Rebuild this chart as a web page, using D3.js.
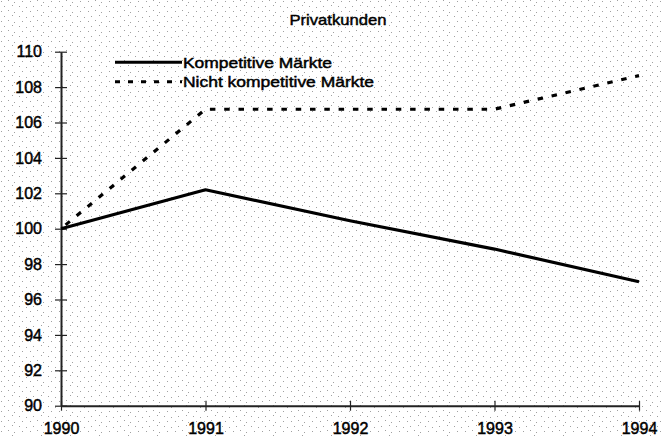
<!DOCTYPE html>
<html><head><meta charset="utf-8">
<script src="https://cdn.jsdelivr.net/npm/d3@7/dist/d3.min.js"></script>
<style>
html,body{margin:0;padding:0;background:#fff;}
svg{display:block;font-family:"Liberation Sans",Arial,sans-serif;}
</style></head>
<body>
<svg id="chart" width="663" height="436"></svg>
<script>
const title = "Privatkunden";
const years = [1990, 1991, 1992, 1993, 1994];
const kompetitiv = [100, 102.2, 100.45, 98.85, 97.0];
const nichtKompetitiv = [100, 106.75, 106.75, 106.75, 108.65];
const seriesNames = ["Kompetitive Märkte", "Nicht kompetitive Märkte"];
const yTicks = [90, 92, 94, 96, 98, 100, 102, 104, 106, 108, 110];

const W = 663, H = 436;
const m = {left: 61, right: 24, top: 51.7, bottom: 30.3};
const svg = d3.select("#chart");

// scanned stipple background
const defs = svg.append("defs");
const pat = defs.append("pattern").attr("id","stip").attr("patternUnits","userSpaceOnUse")
  .attr("width", 29).attr("height", 10);
[[1,1],[8,0],[14,2],[22,1],[4,6],[12,5],[19,6],[26,7]].forEach(([x,y])=>{
  pat.append("rect").attr("x",x).attr("y",y).attr("width",1).attr("height",1).attr("fill","#a0a0a0");
});
svg.append("rect").attr("width",W).attr("height",H).attr("fill","#fff");
svg.append("rect").attr("width",W).attr("height",H).attr("fill","url(#stip)");

const x = d3.scaleLinear().domain([1990,1994]).range([m.left, W - m.right]);
const y = d3.scaleLinear().domain([90,110]).range([H - m.bottom, m.top]);

const textStyle = sel => sel.attr("fill","#000").attr("stroke","#000").attr("stroke-width",0.45)
  .attr("font-family","'Liberation Sans',Arial,sans-serif");

// axes
const yAxis = svg.append("g").attr("transform",`translate(${m.left},0)`)
  .call(d3.axisLeft(y).tickValues(yTicks).tickSize(6).tickPadding(13).tickSizeOuter(0));
yAxis.select(".domain").attr("stroke","#222").attr("stroke-width",2);
yAxis.selectAll(".tick line").attr("x1",-6).attr("x2",6).attr("stroke","#222").attr("stroke-width",1.2);
yAxis.selectAll(".tick text").attr("font-size",16).call(textStyle);

const xAxis = svg.append("g").attr("transform",`translate(0,${H - m.bottom})`)
  .call(d3.axisBottom(x).tickValues(years).tickFormat(d3.format("d")).tickSize(5).tickPadding(12).tickSizeOuter(0));
xAxis.select(".domain").attr("stroke","#222").attr("stroke-width",2);
xAxis.selectAll(".tick line").attr("y1",-5).attr("y2",5).attr("stroke","#222").attr("stroke-width",1.2);
xAxis.selectAll(".tick text").attr("font-size",16).call(textStyle);

// lines
const line = d3.line().x((d,i)=>x(years[i])).y(d=>y(d));
svg.append("path").datum(kompetitiv).attr("d",line)
  .attr("fill","none").attr("stroke","#000").attr("stroke-width",3.2).attr("stroke-linejoin","round");
svg.append("path").datum(nichtKompetitiv).attr("d",line)
  .attr("fill","none").attr("stroke","#000").attr("stroke-width",3.2)
  .attr("stroke-dasharray","5.5,8.8").attr("stroke-dashoffset",-6);

// title
svg.append("text").attr("x",338).attr("y",25).attr("text-anchor","middle")
  .attr("font-size",15).attr("textLength",97).attr("lengthAdjust","spacingAndGlyphs")
  .call(textStyle).text(title);

// legend
const lg = svg.append("g");
lg.append("line").attr("x1",115).attr("x2",182).attr("y1",62.3).attr("y2",62.3)
  .attr("stroke","#000").attr("stroke-width",3);
lg.append("line").attr("x1",115).attr("x2",182).attr("y1",81.7).attr("y2",81.7)
  .attr("stroke","#000").attr("stroke-width",3).attr("stroke-dasharray","5,8");
lg.append("text").attr("x",183).attr("y",67.5).attr("font-size",14.5)
  .attr("textLength",149).attr("lengthAdjust","spacingAndGlyphs").call(textStyle).text(seriesNames[0]);
lg.append("text").attr("x",183).attr("y",87).attr("font-size",14.5)
  .attr("textLength",191).attr("lengthAdjust","spacingAndGlyphs").call(textStyle).text(seriesNames[1]);
</script>
</body></html>
